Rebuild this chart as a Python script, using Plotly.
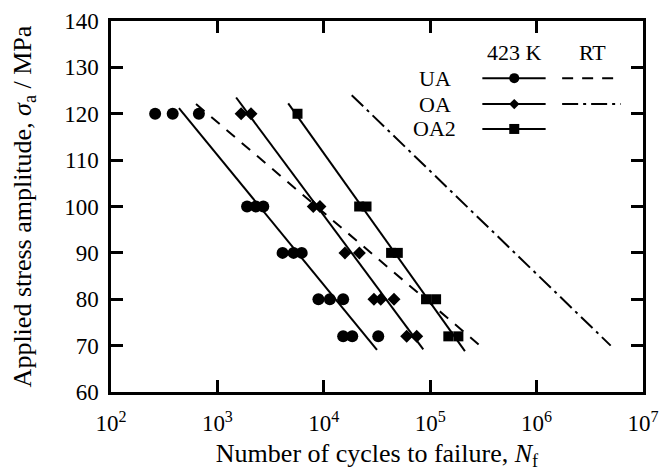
import plotly.graph_objects as go

# ---- data ----
ua_stress = [120, 120, 120, 100, 100, 100, 90, 90, 90, 80, 80, 80, 72, 72, 72]
ua_cycles = [260, 380, 670, 1900, 2300, 2700, 4100, 5200, 6200, 8900, 11400, 15200, 15200, 18500, 32500]
oa_stress = [120, 120, 100, 100, 90, 90, 80, 80, 80, 72, 72]
oa_cycles = [1670, 2070, 7960, 9200, 15800, 21600, 29600, 34300, 45700, 60100, 74700]
oa2_stress = [120, 100, 100, 90, 90, 80, 80, 72, 72]
oa2_cycles = [5660, 21500, 25200, 42900, 49600, 91400, 113600, 148000, 184000]

# fitted S-N lines (end points)
ua_423_cycles = [435, 31600]
ua_423_stress = [121.2, 69.1]
oa_423_cycles = [1500, 86100]
oa_423_stress = [123.5, 69.2]
oa2_423_cycles = [4630, 212000]
oa2_423_stress = [122.25, 68.8]
ua_rt_cycles = [630, 294000]
ua_rt_stress = [122.1, 70.0]
oa_rt_cycles = [18300, 4.97e6]
oa_rt_stress = [124.0, 70.0]

x_tickvals = [1e2, 1e3, 1e4, 1e5, 1e6, 1e7]
x_ticktext = ["10<sup>2</sup>", "10<sup>3</sup>", "10<sup>4</sup>",
              "10<sup>5</sup>", "10<sup>6</sup>", "10<sup>7</sup>"]
y_tickvals = [60, 70, 80, 90, 100, 110, 120, 130, 140]

legend_rows = ["UA", "OA", "OA2"]
legend_headers = ["423 K", "RT"]

FONT = "Liberation Serif, Times New Roman, serif"
LW = 2

fig = go.Figure()

# fitted lines
fig.add_trace(go.Scatter(x=ua_423_cycles, y=ua_423_stress, mode="lines",
                         line=dict(color="black", width=LW)))
fig.add_trace(go.Scatter(x=oa_423_cycles, y=oa_423_stress, mode="lines",
                         line=dict(color="black", width=LW)))
fig.add_trace(go.Scatter(x=oa2_423_cycles, y=oa2_423_stress, mode="lines",
                         line=dict(color="black", width=LW)))
fig.add_trace(go.Scatter(x=ua_rt_cycles, y=ua_rt_stress, mode="lines",
                         line=dict(color="black", width=LW, dash="11px,9px")))
fig.add_trace(go.Scatter(x=oa_rt_cycles, y=oa_rt_stress, mode="lines",
                         line=dict(color="black", width=LW, dash="16px,5px,3px,5px")))

# data points
fig.add_trace(go.Scatter(x=ua_cycles, y=ua_stress, mode="markers",
                         marker=dict(symbol="circle", size=12, color="black")))
fig.add_trace(go.Scatter(x=oa_cycles, y=oa_stress, mode="markers",
                         marker=dict(symbol="diamond", size=10, color="black")))
fig.add_trace(go.Scatter(x=oa2_cycles, y=oa2_stress, mode="markers",
                         marker=dict(symbol="square", size=10, color="black")))

# ---- custom legend on an overlay axis (0..1 of the plot area) ----
row_y = [0.846, 0.776, 0.709]
solid_x = [0.698, 0.817]
mark_x = 0.758
rt_x = [0.848, 0.947]
rt2_x = [0.848, 0.958]
symbols = ["circle", "diamond", "square"]
msizes = [10, 8, 10]
for i, yy in enumerate(row_y):
    fig.add_trace(go.Scatter(x=solid_x, y=[yy, yy], xaxis="x2", yaxis="y2", mode="lines",
                             line=dict(color="black", width=LW)))
    fig.add_trace(go.Scatter(x=[mark_x], y=[yy], xaxis="x2", yaxis="y2", mode="markers",
                             marker=dict(symbol=symbols[i], size=msizes[i], color="black")))
fig.add_trace(go.Scatter(x=rt_x, y=[row_y[0]] * 2, xaxis="x2", yaxis="y2", mode="lines",
                         line=dict(color="black", width=LW, dash="11px,9px")))
fig.add_trace(go.Scatter(x=rt2_x, y=[row_y[1]] * 2, xaxis="x2", yaxis="y2", mode="lines",
                         line=dict(color="black", width=LW, dash="16px,5px,3px,5px")))

annotations = []
for name, yy in zip(legend_rows, row_y):
    annotations.append(dict(x=0.609, y=yy, xref="paper", yref="paper", text=name,
                            showarrow=False, xanchor="center", yanchor="middle",
                            font=dict(family=FONT, size=22, color="black")))
for name, xx in zip(legend_headers, [0.758, 0.906]):
    annotations.append(dict(x=xx, y=0.916, xref="paper", yref="paper", text=name,
                            showarrow=False, xanchor="center", yanchor="middle",
                            font=dict(family=FONT, size=22, color="black")))

axis_common = dict(showline=True, linecolor="black", linewidth=2.5, mirror="allticks",
                   ticks="inside", ticklen=12, tickwidth=2.5, tickcolor="black",
                   showgrid=False, zeroline=False, automargin=False,
                   tickfont=dict(family=FONT, size=23, color="black"))

# page body has an 8px default margin, so the figure is sized to fit inside it
fig.update_layout(
    width=662, height=463,
    margin=dict(l=103, r=27, t=13, b=79, autoexpand=False),
    paper_bgcolor="white", plot_bgcolor="white",
    showlegend=False,
    font=dict(family=FONT, color="black"),
    xaxis=dict(type="log", range=[2, 7], tickvals=x_tickvals, ticktext=x_ticktext,
               title=dict(text="Number of cycles to failure, <i>N</i><sub>f</sub>",
                          font=dict(family=FONT, size=26), standoff=10),
               ticklabelstandoff=9,
               **axis_common),
    yaxis=dict(range=[60, 140], tickvals=y_tickvals,
               title=dict(text="Applied stress amplitude, <i>σ</i><sub>a</sub> / MPa",
                          font=dict(family=FONT, size=26), standoff=27),
               ticklabelstandoff=5,
               **axis_common),
    xaxis2=dict(overlaying="x", range=[0, 1], visible=False),
    yaxis2=dict(overlaying="y", range=[0, 1], visible=False),
    annotations=annotations,
)

fig.write_html("out.html")
